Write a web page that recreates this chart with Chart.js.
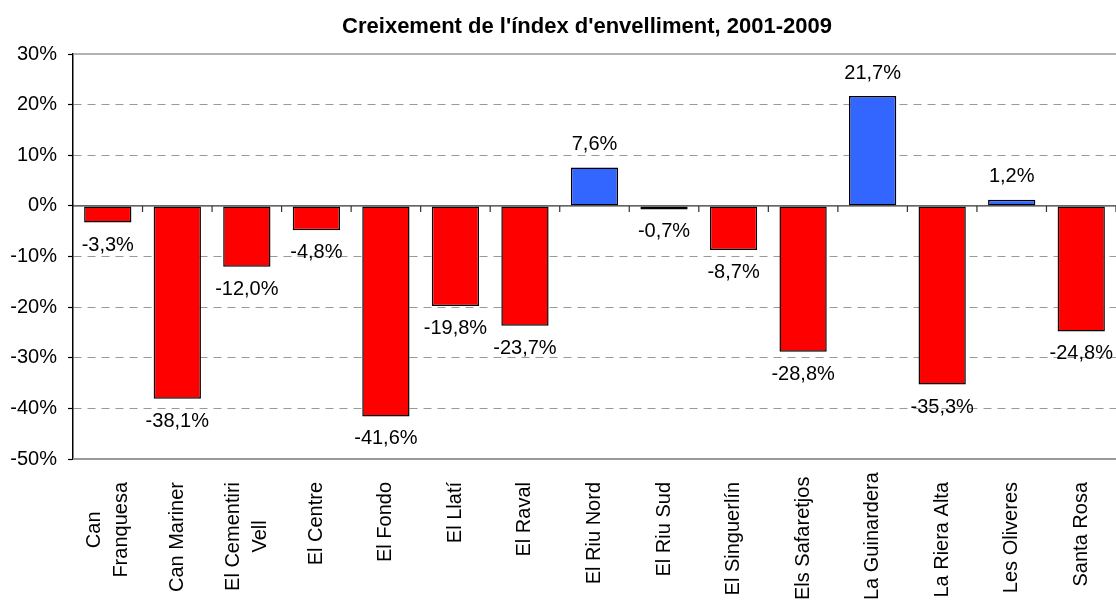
<!DOCTYPE html>
<html>
<head>
<meta charset="utf-8">
<script src="https://cdn.jsdelivr.net/npm/chart.js@4.4.0/dist/chart.umd.min.js"></script>
<style>
  html, body { margin: 0; padding: 0; background: #fff; }
  canvas { display: block; }
</style>
</head>
<body>
<canvas id="chart" width="1116" height="602"></canvas>
<script>
// data
const titleText = "Creixement de l'índex d'envelliment, 2001-2009";
const barrios = [
  ['Can', 'Franquesa'], 'Can Mariner', ['El Cementiri', 'Vell'], 'El Centre', 'El Fondo',
  'El Llatí', 'El Raval', 'El Riu Nord', 'El Riu Sud', 'El Singuerlín',
  'Els Safaretjos', 'La Guinardera', 'La Riera Alta', 'Les Oliveres', 'Santa Rosa'
];
const creixement = [-3.3, -38.1, -12.0, -4.8, -41.6, -19.8, -23.7, 7.6, -0.7, -8.7, -28.8, 21.7, -35.3, 1.2, -24.8];
const yMin = -50;
const yMax = 30;
const yStep = 10;

const FONT = "'Liberation Sans', Arial, sans-serif";

function fmt(v) {
  return v.toFixed(1).replace('.', ',') + '%';
}

// zero line, frame lines, ticks on zero line, bar labels, x labels, title
const decor = {
  id: 'decor',
  afterDatasetsDraw(chart) {
    const { ctx, chartArea: a, scales: { x, y } } = chart;
    ctx.save();

    // top and bottom frame lines
    ctx.strokeStyle = '#999';
    ctx.lineWidth = 1.5;
    ctx.beginPath();
    ctx.moveTo(a.left, y.getPixelForValue(yMax));
    ctx.lineTo(a.right, y.getPixelForValue(yMax));
    ctx.stroke();
    ctx.lineWidth = 2;
    ctx.beginPath();
    ctx.moveTo(a.left, y.getPixelForValue(yMin));
    ctx.lineTo(a.right, y.getPixelForValue(yMin));
    ctx.stroke();

    // zero line with category ticks
    const y0 = y.getPixelForValue(0);
    ctx.strokeStyle = '#333';
    ctx.lineWidth = 1.2;
    ctx.beginPath();
    ctx.moveTo(a.left, y0);
    ctx.lineTo(a.right, y0);
    const half = (x.getPixelForValue(1) - x.getPixelForValue(0)) / 2;
    for (let i = 0; i < barrios.length; i++) {
      const bx = x.getPixelForValue(i) + half;
      ctx.moveTo(bx, y0);
      ctx.lineTo(bx, y0 + 6);
    }
    ctx.stroke();

    // value labels
    ctx.fillStyle = '#000';
    ctx.font = '20px ' + FONT;
    ctx.textAlign = 'center';
    ctx.textBaseline = 'alphabetic';
    chart.getDatasetMeta(0).data.forEach((el, i) => {
      const v = creixement[i];
      const ty = v >= 0 ? el.y - 17.5 : el.y + 28;
      ctx.fillText(fmt(v), el.x, ty);
    });

    // rotated category labels
    ctx.font = '20px ' + FONT;
    ctx.textBaseline = 'middle';
    ctx.textAlign = 'center';
    const lh = 27;
    barrios.forEach((lab, i) => {
      const lines = Array.isArray(lab) ? lab : [lab];
      const maxLen = Math.max(...lines.map(l => ctx.measureText(l).width));
      const top = Math.min(482, 600 - maxLen);
      const cx = x.getPixelForValue(i);
      ctx.save();
      ctx.translate(cx, top);
      ctx.rotate(-Math.PI / 2);
      lines.forEach((l, k) => {
        ctx.fillText(l, -maxLen / 2, (k - (lines.length - 1) / 2) * lh);
      });
      ctx.restore();
    });

    // title
    ctx.font = 'bold 22px ' + FONT;
    ctx.textAlign = 'center';
    ctx.textBaseline = 'alphabetic';
    ctx.fillText(titleText, 587, 33);

    ctx.restore();
  }
};

const ctx = document.getElementById('chart').getContext('2d');
const chart = new Chart(ctx, {
  type: 'bar',
  data: {
    labels: barrios,
    datasets: [{
      data: creixement,
      backgroundColor: c => (creixement[c.dataIndex] >= 0 ? '#3366FF' : '#FF0000'),
      borderColor: '#000',
      borderWidth: 1.5,
      borderSkipped: false,
      categoryPercentage: 1,
      barPercentage: 0.68
    }]
  },
  options: {
    responsive: false,
    devicePixelRatio: 1,
    animation: false,
    layout: { padding: { top: 54, left: 0, right: 0, bottom: 0 } },
    plugins: {
      legend: { display: false },
      title: { display: false },
      tooltip: { enabled: false }
    },
    scales: {
      x: {
        offset: true,
        grid: { display: false },
        border: { display: false },
        ticks: { display: false },
        afterFit: s => { s.height = 143; }
      },
      y: {
        min: yMin,
        max: yMax,
        ticks: {
          stepSize: yStep,
          color: '#000',
          font: { family: FONT, size: 20 },
          padding: 11,
          callback: v => v + '%'
        },
        grid: {
          color: c => ([0, yMin, yMax].includes(c.tick.value) ? 'rgba(0,0,0,0)' : '#999'),
          lineWidth: 1,
          tickColor: '#000',
          tickLength: 5,
          tickWidth: 1.2
        },
        border: { color: '#000', width: 1.5, dash: [8, 6] },
        afterFit: s => { s.width = 73; }
      }
    }
  },
  plugins: [decor]
});
</script>
</body>
</html>
